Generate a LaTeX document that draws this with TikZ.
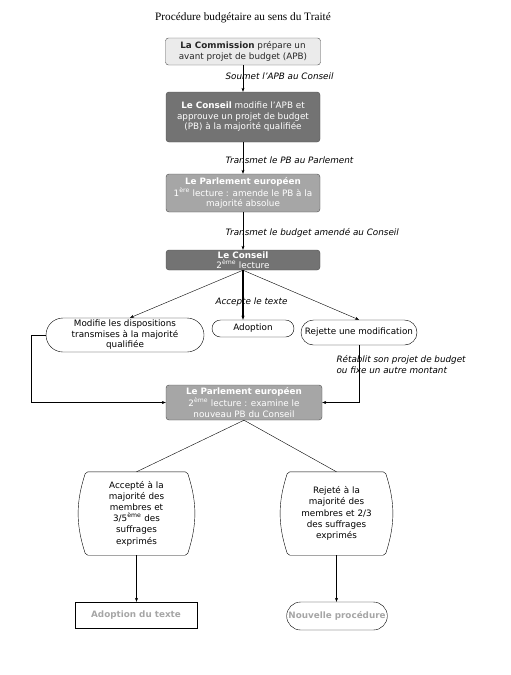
\documentclass[tikz,border=0pt]{standalone}
\usepackage{fontspec}
\setmainfont{Liberation Serif}
\setsansfont{DejaVu Sans}
\usetikzlibrary{arrows.meta, shapes.misc}

\begin{document}
\begin{tikzpicture}[
  x=1pt, y=-1pt,
  every node/.style = {align=center, font=\sffamily\fontsize{8.8}{10.5}\selectfont},
  arrow/.style = {draw, -{Stealth[length=4pt, width=3pt]}},
  phase/.style = {draw=black!70, rounded corners=3pt, inner sep=1pt},
  lightbox/.style = {phase, fill=black!8, text=black!85},
  darkbox/.style = {phase, fill=black!55, text=white},
  midbox/.style = {phase, fill=black!35, text=white},
  choice/.style = {draw, rounded rectangle, inner sep=1pt},
  vote/.style = {inner sep=1pt, text width=88pt, font=\sffamily\fontsize{8.8}{11.2}\selectfont},
  note/.style = {anchor=west, align=left, font=\sffamily\itshape\fontsize{8.8}{11}\selectfont},
  final/.style = {text=black!35, font=\sffamily\bfseries\fontsize{8.8}{10.5}\selectfont}
]
\useasboundingbox (0,0) rectangle (511,675);

\node[font=\rmfamily\fontsize{11.3}{13}\selectfont] (titre) at (243,18) {Procédure budgétaire au sens du Traité};

% premier passage
\node[lightbox, minimum width=155pt, minimum height=27pt] (com) at (243,51.5)
  {\textbf{La Commission} prépare un\\avant projet de budget (APB)};
\node[darkbox, minimum width=154pt, minimum height=50pt] (cons1) at (243,117)
  {\textbf{Le Conseil} modifie l'APB et\\approuve un projet de budget\\(PB) à la majorité qualifiée};
\node[midbox, minimum width=154pt, minimum height=38pt] (parl1) at (243,193)
  {\textbf{Le Parlement européen}\\1\textsuperscript{ère} lecture : amende le PB à la\\majorité absolue};
\node[darkbox, minimum width=154pt, minimum height=20pt] (cons2) at (243,260)
  {\textbf{Le Conseil}\\2\textsuperscript{ème} lecture};

\draw[arrow] (com) -- (cons1);
\node[note] (soumet) at (222,76) {Soumet l'APB au Conseil};
\draw[arrow] (cons1) -- (parl1);
\node[note] (transmet) at (222,160) {Transmet le PB au Parlement};
\draw[arrow] (parl1) -- (cons2);
\node[note] (amende) at (222,233) {Transmet le budget amendé au Conseil};

% choix du Conseil
\node[choice, minimum width=160pt, minimum height=34pt] (modif) at (125,335)
  {Modifie les dispositions\\transmises à la majorité\\qualifiée};
\node[choice, minimum width=84pt, minimum height=17pt] (adopt) at (253,328.5) {Adoption};
\node[choice, minimum width=118pt, minimum height=25pt] (rejet) at (359,332.5) {Rejette une modification};

\draw[arrow] (cons2.south) -- ([xshift=5pt]modif.north);
\draw[arrow, line width=1.4pt] (cons2.south) -- (cons2.south |- adopt.north);
\draw[arrow] (cons2.south) -- (rejet.north);
\node[note] (accepte) at (212,302) {Accepte le texte};

% second passage
\node[midbox, minimum width=156pt, minimum height=35pt] (parl2) at (244,402.5)
  {\textbf{Le Parlement européen}\\2\textsuperscript{ème} lecture : examine le\\nouveau PB du Conseil};
\draw[arrow] (modif.west) -- ++(-15,0) |- (parl2.west);
\draw[arrow] (rejet.south) |- (parl2.east);
\node[note] (retablit) at (333,365) {Rétablit son projet de budget\\ou fixe un autre montant};

% vote final
\node[vote, minimum width=101pt, minimum height=83pt] (accept) at (136.5,513.5)
  {Accepté à la\\majorité des\\membres et\\3/5\textsuperscript{ème} des\\suffrages\\exprimés};
\node[vote, minimum width=97pt, minimum height=83pt] (refus) at (336.5,513.5)
  {Rejeté à la\\majorité des\\membres et 2/3\\des suffrages\\exprimés};
\foreach \v in {accept, refus} {
  \draw[rounded corners=2pt] (\v.north west) to[bend right=18] (\v.south west)
    -- (\v.south east) to[bend right=18] (\v.north east) -- cycle;
}
\draw (parl2.south) -- (accept.north);
\draw (parl2.south) -- (refus.north);

\node[final, draw, minimum width=122pt, minimum height=26pt] (adtexte) at (136,615) {Adoption du texte};
\node[final, choice, minimum width=100pt, minimum height=28pt] (nouv) at (337,616) {Nouvelle procédure};
\draw[arrow] (accept.south) -- (accept.south |- adtexte.north);
\draw[arrow] (refus.south) -- (refus.south |- nouv.north);

\end{tikzpicture}
\end{document}
